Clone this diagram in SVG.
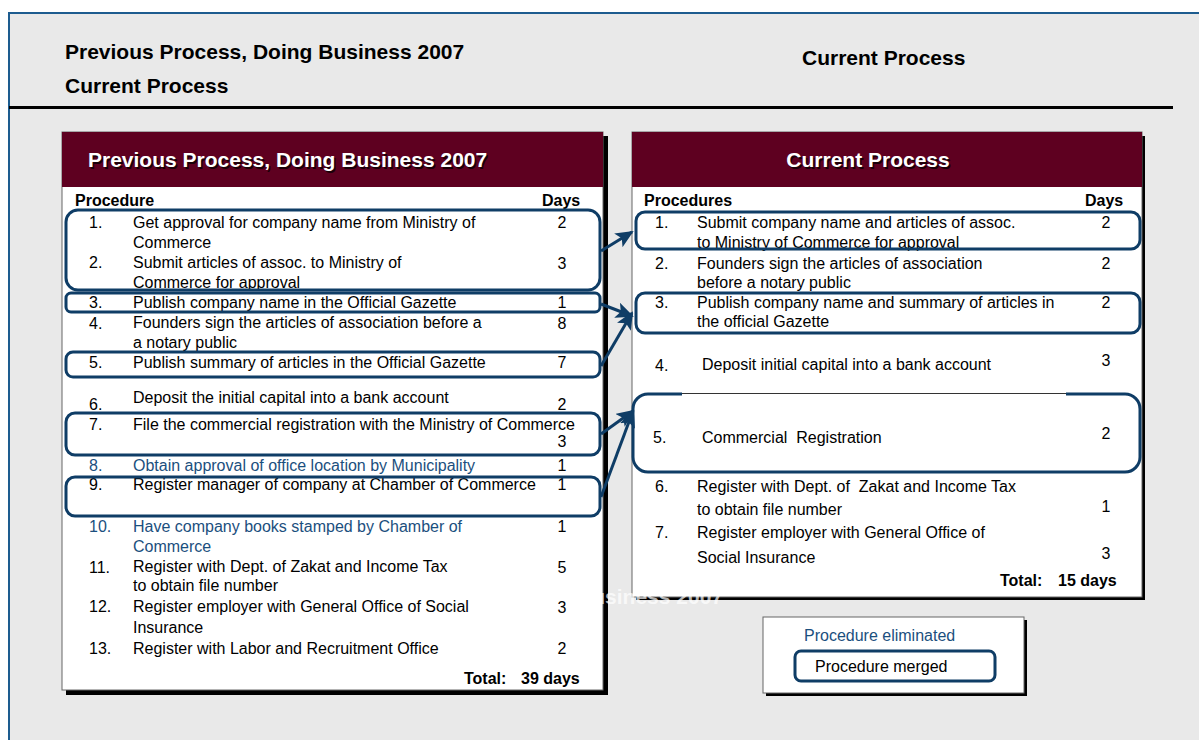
<svg xmlns="http://www.w3.org/2000/svg" width="1199" height="740" viewBox="0 0 1199 740">
<defs>
<style>
text{font-family:"Liberation Sans",Arial,sans-serif;font-size:16px;fill:#000}
.h{font-size:21px;font-weight:bold}
.t{font-size:21px;font-weight:bold;fill:#fff}
.ts{font-size:21px;font-weight:bold;fill:#1a0008}
.b{font-weight:bold}
.bl{fill:#1b4f7e}
.d{text-anchor:middle}
.pre{white-space:pre}
.box{fill:none;stroke:#0f3d66;stroke-width:3}
.arr{stroke:#0f3d66;stroke-width:3;fill:none;marker-end:url(#ah)}
</style>
<marker id="ah" markerUnits="userSpaceOnUse" markerWidth="18" markerHeight="16" refX="16" refY="8" orient="auto">
<path d="M0,0 L18,8 L0,16 L4,8 Z" fill="#0f3d66"/>
</marker>
</defs>
<rect width="1199" height="740" fill="#fff"/>
<rect x="9" y="13" width="1190" height="727" fill="#e9e9e9"/>
<path d="M9,740 V13 H1199" fill="none" stroke="#1d5c8f" stroke-width="2"/>
<text class="h" x="65" y="59">Previous Process, Doing Business 2007</text>
<text class="h" x="65" y="93">Current Process</text>
<text class="h" x="802" y="65">Current Process</text>
<line x1="9" y1="107.5" x2="1173" y2="107.5" stroke="#000" stroke-width="3"/>

<g id="left-panel">
<rect x="66" y="136" width="542" height="559" fill="#000"/>
<rect x="62" y="132" width="541" height="558" fill="#fff" stroke="#666" stroke-width="1"/>
<rect x="62" y="132" width="541" height="55" fill="#5e0020"/>
<text class="ts" x="89.5" y="168.5">Previous Process, Doing Business 2007</text>
<text class="t" x="88" y="167">Previous Process, Doing Business 2007</text>
<text class="b" x="75" y="206">Procedure</text>
<text class="b" x="542" y="206">Days</text>
<text x="89" y="228">1.</text><text x="133" y="228">Get approval for company name from Ministry of</text><text class="d" x="562" y="228">2</text>
<text x="133" y="248">Commerce</text>
<text x="89" y="268">2.</text><text x="133" y="268">Submit articles of assoc. to Ministry of</text><text class="d" x="562" y="269">3</text>
<text x="133" y="288">Commerce for approval</text>
<text x="89" y="308">3.</text><text x="133" y="308">Publish company name in the Official Gazette</text><text class="d" x="562" y="308">1</text>
<text x="89" y="329">4.</text><text x="133" y="328">Founders sign the articles of association before a</text><text class="d" x="562" y="329">8</text>
<text x="133" y="348">a notary public</text>
<text x="89" y="368">5.</text><text x="133" y="368">Publish summary of articles in the Official Gazette</text><text class="d" x="562" y="368">7</text>
<text x="89" y="410">6.</text><text x="133" y="403">Deposit the initial capital into a bank account</text><text class="d" x="562" y="410">2</text>
<text x="89" y="430">7.</text><text x="133" y="430">File the commercial registration with the Ministry of Commerce</text><text class="d" x="562" y="447">3</text>
<text class="bl" x="89" y="471">8.</text><text class="bl" x="133" y="471">Obtain approval of office location by Municipality</text><text class="d" x="562" y="471">1</text>
<text x="89" y="490">9.</text><text x="133" y="490">Register manager of company at Chamber of Commerce</text><text class="d" x="562" y="490">1</text>
<text class="bl" x="89" y="532">10.</text><text class="bl" x="133" y="532">Have company books stamped by Chamber of</text><text class="d" x="562" y="532">1</text>
<text class="bl" x="133" y="552">Commerce</text>
<text x="89" y="573">11.</text><text x="133" y="572">Register with Dept. of Zakat and Income Tax</text><text class="d" x="562" y="573">5</text>
<text x="133" y="591">to obtain file number</text>
<text x="89" y="612">12.</text><text x="133" y="612">Register employer with General Office of Social</text><text class="d" x="562" y="613">3</text>
<text x="133" y="633">Insurance</text>
<text x="89" y="654">13.</text><text x="133" y="654">Register with Labor and Recruitment Office</text><text class="d" x="562" y="654">2</text>
<text class="b" x="464" y="684">Total:</text><text class="b" x="521" y="684">39 days</text>
</g>

<g id="left-merge-boxes">
<rect class="box" x="66" y="210" width="534" height="80" rx="12"/>
<rect class="box" x="66" y="293" width="534" height="19" rx="5"/>
<rect class="box" x="66" y="352" width="534" height="25" rx="7"/>
<rect class="box" x="66" y="413" width="534" height="42" rx="9"/>
<rect class="box" x="66" y="477" width="534" height="39" rx="9"/>
</g>

<g id="right-panel">
<rect x="636" y="136" width="509" height="464" fill="#000"/>
<rect x="632" y="132" width="510" height="465" fill="#fff" stroke="#666" stroke-width="1"/>
<rect x="632" y="132" width="510" height="55" fill="#5e0020"/>
<text class="ts d" x="869.5" y="168.5">Current Process</text>
<text class="t d" x="868" y="167">Current Process</text>
<text class="b" x="644" y="206">Procedures</text>
<text class="b" x="1085" y="206">Days</text>
<text x="655" y="228">1.</text><text x="697" y="228">Submit company name and articles of assoc.</text><text class="d" x="1106" y="228">2</text>
<text x="697" y="248">to Ministry of Commerce for approval</text>
<text x="655" y="269">2.</text><text x="697" y="269">Founders sign the articles of association</text><text class="d" x="1106" y="269">2</text>
<text x="697" y="288">before a notary public</text>
<text x="655" y="308">3.</text><text x="697" y="308">Publish company name and summary of articles in</text><text class="d" x="1106" y="308">2</text>
<text x="697" y="327">the official Gazette</text>
<text x="655" y="371">4.</text><text x="702" y="370">Deposit initial capital into a bank account</text><text class="d" x="1106" y="366">3</text>
<text x="653" y="443">5.</text><text class="pre" x="702" y="443">Commercial  Registration</text><text class="d" x="1106" y="439">2</text>
<text x="655" y="492">6.</text><text class="pre" x="697" y="492">Register with Dept. of  Zakat and Income Tax</text>
<text x="697" y="515">to obtain file number</text><text class="d" x="1106" y="512">1</text>
<text x="655" y="538">7.</text><text x="697" y="538">Register employer with General Office of</text>
<text x="697" y="563">Social Insurance</text><text class="d" x="1106" y="559">3</text>
<text class="b" x="1000" y="586">Total:</text><text class="b" x="1058" y="586">15 days</text>
</g>

<g id="right-merge-boxes">
<rect class="box" x="636" y="212" width="504" height="37" rx="9"/>
<rect class="box" x="636" y="293" width="504" height="40" rx="9"/>
<rect class="box" x="633" y="394" width="507" height="78" rx="15"/>
<rect x="682" y="392" width="384" height="4" fill="#fff"/>
<line x1="682" y1="393.5" x2="1066" y2="393.5" stroke="#333" stroke-width="1"/>
</g>

<g id="connectors">
<line class="arr" x1="601" y1="251" x2="632" y2="232"/>
<line class="arr" x1="601" y1="304" x2="632" y2="316"/>
<line class="arr" x1="601" y1="366" x2="632" y2="313"/>
<line class="arr" x1="601" y1="434" x2="633" y2="411"/>
<line class="arr" x1="601" y1="497" x2="633" y2="411"/>
</g>

<text x="723" y="604" text-anchor="end" style="fill:#fff;fill-opacity:0.7;font-size:21px;font-weight:bold">usiness 2007</text>

<g id="legend">
<rect x="766" y="620" width="261" height="76" fill="#000"/>
<rect x="763" y="617" width="261" height="76" fill="#fff" stroke="#666" stroke-width="1"/>
<text class="bl" x="804" y="641">Procedure eliminated</text>
<rect class="box" x="795" y="651" width="200" height="30" rx="6"/>
<text x="815" y="672">Procedure merged</text>
</g>
</svg>
